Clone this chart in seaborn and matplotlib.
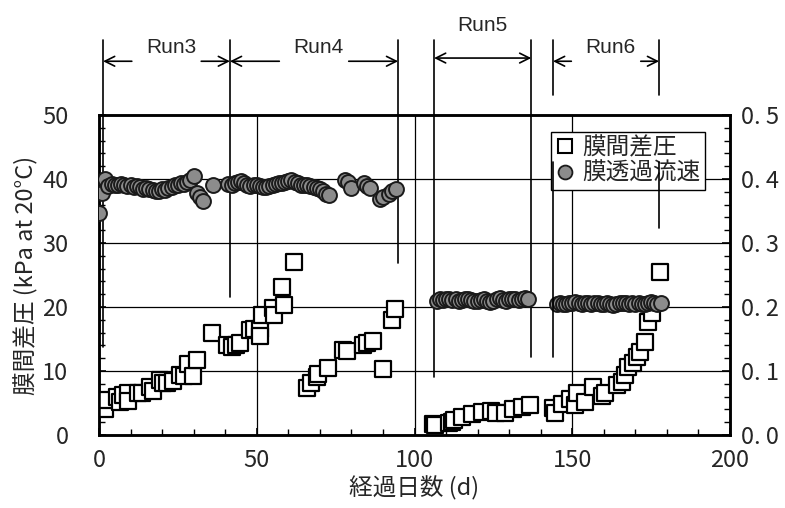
import numpy as np
import pandas as pd
import seaborn as sns
import matplotlib.pyplot as plt
from matplotlib.lines import Line2D
from matplotlib.ticker import MultipleLocator, FuncFormatter

# Membrane pressure difference (kPa) by elapsed day
tmp_day = [0, 1.9, 2.4, 5.6, 6.7, 7.5, 9.3, 9.3, 12.5, 13.5, 16.2, 17, 19.3, 20.4, 21.5, 23.6,
           25.7, 26.8, 28.3, 29.9, 31, 35.7,
           40.5, 42, 43.5, 44.7, 47.9, 49, 51, 51, 51.6, 55.3, 55.4, 57.9, 58.6, 61.9,
           65.8, 67.3, 69, 69.5, 72.5, 77.4, 78.5, 83.8, 84.8, 86.7, 89.9, 92.8, 93.8,
           106, 106.5, 110.8, 111.8, 112.6, 115, 118.1, 121.3, 124.3, 125.9, 128.7, 131.3, 134, 136.6,
           144, 144.5, 146.6, 149.3, 150.9, 151.4, 154, 156.7, 159.3, 160.4, 164.1, 165.6, 166.7,
           167.8, 169.4, 170.4, 171.5, 173.1, 174.1, 175.2, 177.8]
tmp_kpa = [5.0, 4.0, 5.5, 6.0, 5.2, 6.3, 6.6, 5.3, 6.5, 6.5, 7.45, 6.8, 8.6, 8.2, 8.1, 8.4,
           9.4, 9.2, 11.1, 9.2, 11.7, 16.0,
           14.1, 13.8, 14.1, 14.4, 16.4, 16.5, 16.6, 15.5, 18.75, 19.8, 18.8, 23.2, 20.3, 27.0,
           7.3, 8.1, 9.1, 9.6, 10.4, 13.3, 13.2, 14.1, 14.3, 14.7, 10.3, 17.9, 19.7,
           1.7, 1.6, 1.9, 2.1, 2.3, 2.8, 3.3, 3.6, 3.7, 3.4, 3.5, 4.0, 4.3, 4.7,
           4.2, 3.5, 4.9, 5.7, 4.7, 6.6, 5.2, 7.45, 6.1, 6.5, 7.8, 8.35, 9.4,
           10.6, 11.2, 12.2, 13.0, 14.6, 17.7, 19.1, 25.5]

# Membrane flux by elapsed day
flux_day = [0, 1, 2, 3, 4, 5, 6, 7, 8, 9, 10, 11, 12, 13, 14, 15, 16, 17, 18, 19, 20, 21, 22,
            23, 24, 25, 26, 27, 28, 29, 30, 31, 32, 33, 36,
            41, 42, 43, 44, 45, 46, 47, 48, 49, 50, 51, 52, 53, 54, 55, 56, 57, 58, 59, 60,
            61, 62, 63, 64, 65, 66, 67, 68, 69, 70, 71, 72, 73,
            78, 79, 80, 84, 85, 86, 89, 90, 92, 93, 94,
            107, 108, 109, 110, 111, 112, 113, 114, 115, 116, 117, 118, 119, 120, 121, 122,
            123, 124, 125, 126, 127, 128, 129, 130, 131, 132, 133, 134, 135, 136,
            145, 146, 147, 148, 149, 150, 151, 152, 153, 154, 155, 156, 157, 158, 159, 160, 161,
            162, 163, 164, 165, 166, 167, 168, 169, 170, 171, 172, 173, 174, 175, 176, 177, 178]
flux_val = [0.347, 0.378, 0.400, 0.389, 0.392, 0.391, 0.390, 0.392, 0.391, 0.389, 0.390, 0.388,
            0.389, 0.387, 0.385, 0.386, 0.384, 0.383, 0.381, 0.382, 0.384, 0.383, 0.386, 0.388,
            0.390, 0.391, 0.393, 0.392, 0.395, 0.398, 0.404, 0.378, 0.372, 0.366, 0.391,
            0.392, 0.390, 0.393, 0.396, 0.397, 0.393, 0.390, 0.389, 0.390, 0.391, 0.389, 0.388,
            0.387, 0.389, 0.390, 0.392, 0.394, 0.393, 0.395, 0.397, 0.399, 0.396, 0.393, 0.391,
            0.391, 0.390, 0.389, 0.388, 0.386, 0.384, 0.381, 0.377, 0.375,
            0.399, 0.395, 0.386, 0.394, 0.389, 0.386, 0.369, 0.372, 0.376, 0.382, 0.384,
            0.210, 0.212, 0.211, 0.213, 0.212, 0.211, 0.212, 0.210, 0.211, 0.212, 0.213, 0.211,
            0.210, 0.209, 0.211, 0.212, 0.210, 0.208, 0.210, 0.212, 0.214, 0.211, 0.210, 0.212,
            0.213, 0.212, 0.211, 0.213, 0.214, 0.212,
            0.205, 0.206, 0.204, 0.205, 0.207, 0.206, 0.208, 0.207, 0.205, 0.206, 0.206, 0.205,
            0.207, 0.206, 0.205, 0.204, 0.206, 0.205, 0.203, 0.205, 0.206, 0.207, 0.206, 0.205,
            0.207, 0.205, 0.206, 0.204, 0.205, 0.207, 0.208, 0.206, 0.205, 0.206]

# Run periods (days) for the annotations on top
run_names = ["Run3", "Run4", "Run5", "Run6"]
run_start = [1.3, 41.5, 106.2, 143.9]
run_end = [41.5, 94.8, 137.0, 177.5]

# Vertical run boundary markers: day, lowest point (kPa)
bound_day = [1.3, 41.5, 94.8, 106.2, 137.0, 143.9, 177.5]
bound_low = [13.7, 21.6, 26.9, 9.0, 12.2, 12.2, 32.3]
bound_split = [False, False, False, False, False, True, True]

tmp_df = pd.DataFrame({"day": tmp_day, "tmp": tmp_kpa})
flux_df = pd.DataFrame({"day": flux_day, "flux": flux_val})

sns.set_style("white")
plt.rcParams["font.family"] = ["Noto Sans CJK JP", "DejaVu Sans"]

fig = plt.figure(figsize=(7.85, 5.08), dpi=100)
ax = fig.add_axes([0.1261, 0.1437, 0.8039, 0.6299])
ax2 = ax.twinx()

sns.scatterplot(data=tmp_df, x="day", y="tmp", ax=ax, marker="s", s=120,
                facecolor="white", edgecolor="black", linewidth=1.6, zorder=3)
sns.scatterplot(data=flux_df, x="day", y="flux", ax=ax2, marker="o", s=115,
                color="#8c8c8c", edgecolor="#1a1a1a", linewidth=1.4, zorder=3)

ax.set_xlim(0, 200)
ax.set_ylim(0, 50)
ax2.set_ylim(0, 0.5)

# grid
for v in [10, 20, 30, 40]:
    ax.axhline(v, color="black", lw=0.9, zorder=1)
for v in [50, 100, 150]:
    ax.axvline(v, color="black", lw=0.9, zorder=1)

for sp in list(ax.spines.values()) + list(ax2.spines.values()):
    sp.set_linewidth(1.8)
    sp.set_color("black")

ax.xaxis.set_major_locator(MultipleLocator(50))
ax.xaxis.set_minor_locator(MultipleLocator(10))
ax.yaxis.set_major_locator(MultipleLocator(10))
ax.yaxis.set_minor_locator(MultipleLocator(2))
ax2.yaxis.set_major_locator(MultipleLocator(0.1))
ax2.yaxis.set_minor_locator(MultipleLocator(0.02))
ax2.yaxis.set_major_formatter(FuncFormatter(lambda v, p: f"{v:.1f}".replace(".", ". ")))

ax.tick_params(axis="x", which="both", direction="in", bottom=True, top=False, color="black")
ax.tick_params(axis="x", which="major", length=5, width=1.2, pad=10, labelsize=17)
ax.tick_params(axis="x", which="minor", length=4, width=1.0)
ax.tick_params(axis="y", which="both", direction="in", left=True, right=False, color="black")
ax.tick_params(axis="y", which="major", length=5, width=1.2, pad=22, labelsize=17)
ax.tick_params(axis="y", which="minor", length=4, width=1.0)
ax2.tick_params(axis="y", which="both", direction="in", right=True, color="black")
ax2.tick_params(axis="y", which="major", length=6, width=1.2, pad=8, labelsize=17)
ax2.tick_params(axis="y", which="minor", length=4, width=1.0)

ax.set_xlabel("経過日数 (d)", fontsize=17, labelpad=3)
ax.set_ylabel("膜間差圧 (kPa at 20°C)", fontsize=17, labelpad=3)
ax2.set_ylabel("")

# run boundary lines
top_val = 61.7
for d, low, split in zip(bound_day, bound_low, bound_split):
    if split:
        ax2.plot([d, d], [top_val, 53.1], color="black", lw=1.2, clip_on=False,
                 transform=ax.transData, zorder=6)
        ax2.plot([d, d], [42.7, low], color="black", lw=1.2, clip_on=False,
                 transform=ax.transData, zorder=6)
    else:
        ax.plot([d, d], [top_val, low], color="black", lw=1.2, clip_on=False, zorder=2)

# run arrows and labels
arrow_kw = dict(arrowstyle="->,head_length=0.7,head_width=0.35", color="black", lw=1.2,
                shrinkA=0, shrinkB=0)
for name, s, e in zip(run_names, run_start, run_end):
    mid = (s + e) / 2
    if name == "Run5":
        ax.annotate("", xy=(s, 58.9), xytext=(e, 58.9), xycoords="data",
                    arrowprops=dict(arrow_kw, arrowstyle="<->,head_length=0.7,head_width=0.35"),
                    annotation_clip=False)
        ax.text(mid, 64.0, name, ha="center", va="center", fontsize=15,
                family="Liberation Sans", clip_on=False)
    else:
        ax.annotate("", xy=(s, 58.4), xytext=(mid - 11, 58.4), arrowprops=arrow_kw,
                    annotation_clip=False)
        ax.annotate("", xy=(e, 58.4), xytext=(mid + 11, 58.4), arrowprops=arrow_kw,
                    annotation_clip=False)
        ax.text(mid + 1.5, 60.5, name, ha="center", va="center", fontsize=15,
                family="Liberation Sans", clip_on=False)

handles = [
    Line2D([], [], marker="s", ls="none", markersize=10, markerfacecolor="white",
           markeredgecolor="black", markeredgewidth=1.5),
    Line2D([], [], marker="o", ls="none", markersize=10, markerfacecolor="#8c8c8c",
           markeredgecolor="#1a1a1a", markeredgewidth=1.3),
]
leg = ax2.legend(handles, ["膜間差圧", "膜透過流速"], loc="upper right",
                 bbox_to_anchor=(0.96, 0.947), borderaxespad=0, fontsize=17,
                 frameon=True, fancybox=False, framealpha=1, edgecolor="black",
                 handlelength=0.8, handletextpad=0.3, borderpad=0.2, labelspacing=0.1)
leg.get_frame().set_linewidth(1.0)

fig.savefig("out.png", dpi=100)
